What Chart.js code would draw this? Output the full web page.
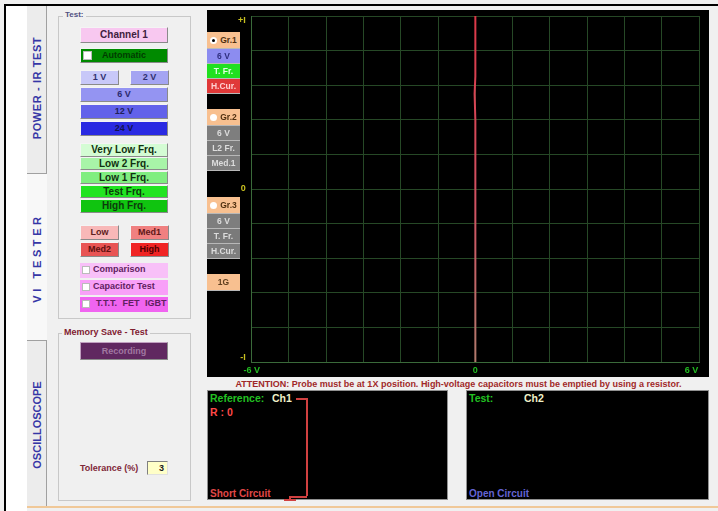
<!DOCTYPE html>
<html><head><meta charset="utf-8">
<script src="https://cdn.jsdelivr.net/npm/chart.js@4"></script>
<style>
html,body{margin:0;padding:0}
body{width:718px;height:511px;background:#f0f0f0;position:relative;overflow:hidden;font-family:"Liberation Sans",Arial,sans-serif}
.a{position:absolute}
.b{position:absolute;box-sizing:border-box;font:bold 9px "Liberation Sans",Arial,sans-serif;text-align:center;border-top:1px solid #f4f4f4;border-left:1px solid #f4f4f4;border-right:1px solid #8a8a8a;border-bottom:1px solid #8a8a8a;white-space:nowrap}
.f{font-size:10px}
.cb{position:absolute;left:2px;top:3px;width:8px;height:8px;background:#fff;border:1px solid #bbb;box-sizing:border-box}
.s{position:absolute;left:207px;width:33px;box-sizing:border-box;font:bold 8.5px "Liberation Sans",Arial,sans-serif;text-align:center;border-bottom:1px solid #b8b8b8;white-space:nowrap}
.rd{display:inline-block;width:7px;height:7px;border-radius:50%;background:#fff;vertical-align:-1px;margin-right:3px;position:relative}
.rd.on:after{content:"";position:absolute;left:2px;top:2px;width:3px;height:3px;border-radius:50%;background:#000}
.vt{position:absolute;font:bold 11px "Liberation Sans",Arial,sans-serif;color:#3636a6;white-space:nowrap;transform:translate(-50%,-50%) rotate(-90deg)}
.t{position:absolute;font:bold 10.5px "Liberation Sans",Arial,sans-serif;white-space:nowrap}
</style></head>
<body>
<div class="a" style="left:6px;top:6px;width:21px;height:505px;background:#fff"></div>
<div class="a" style="left:27px;top:173px;width:20px;height:167px;background:#f8f8f8"></div>
<div class="a" style="left:27px;top:6px;width:19px;height:167px;background:#ececec;border-right:1px solid #a0a0a0;border-bottom:1px solid #a0a0a0"></div>
<div class="a" style="left:27px;top:340px;width:19px;height:167px;background:#ececec;border-right:1px solid #a0a0a0;border-top:1px solid #a0a0a0"></div>
<div class="a" style="left:4px;top:4px;width:714px;height:2px;background:#000"></div>
<div class="a" style="left:4px;top:4px;width:2px;height:507px;background:#000"></div>
<div class="a" style="left:27px;top:506px;width:691px;height:2px;background:#f0c898"></div>

<div class="vt" style="left:37px;top:88px;letter-spacing:0.6px">POWER - IR TEST</div>
<div class="vt" style="left:37px;top:258px;letter-spacing:3.6px">VI TESTER</div>
<div class="vt" style="left:37px;top:425px">OSCILLOSCOPE</div>

<div class="a" style="left:58px;top:16px;width:131px;height:301px;border:1px solid #c8c8c8"></div>
<div class="a" style="left:63px;top:10px;background:#f0f0f0;padding:0 2px;font:bold 8px 'Liberation Sans',Arial;color:#505080">Test:</div>
<div class="a" style="left:58px;top:333px;width:131px;height:166px;border:1px solid #c8c8c8"></div>
<div class="a" style="left:62px;top:327px;background:#f0f0f0;padding:0 2px;font:bold 9px 'Liberation Sans',Arial;color:#802030">Memory Save - Test</div>

<div class="b f" style="left:80px;top:27px;width:88px;height:16px;line-height:14px;background:#f8c8f0;color:#402040">Channel 1</div>
<div class="b" style="left:80px;top:48px;width:88px;height:15px;line-height:13px;background:#008a00;color:#003c00"><span class="cb" style="top:2px;width:9px;height:9px"></span>Automatic</div>
<div class="b" style="left:80px;top:70px;width:39px;height:15px;line-height:13px;background:#c8c8f8;color:#303070">1 V</div>
<div class="b" style="left:130px;top:70px;width:39px;height:15px;line-height:13px;background:#a4a4f2;color:#303070">2 V</div>
<div class="b" style="left:80px;top:87px;width:88px;height:15px;line-height:13px;background:#9494f2;color:#2a2a70">6 V</div>
<div class="b" style="left:80px;top:104px;width:88px;height:15px;line-height:13px;background:#6262ea;color:#20205a">12 V</div>
<div class="b" style="left:80px;top:121px;width:88px;height:15px;line-height:13px;background:#2a2ae2;color:#12124e">24 V</div>
<div class="b f" style="left:80px;top:143px;width:88px;height:14px;line-height:12px;background:#d4fcd4;color:#103010">Very Low Frq.</div>
<div class="b f" style="left:80px;top:157px;width:88px;height:13px;line-height:11px;background:#a8f4a8;color:#103010">Low 2 Frq.</div>
<div class="b f" style="left:80px;top:171px;width:88px;height:13px;line-height:11px;background:#80ee80;color:#103010">Low 1 Frq.</div>
<div class="b f" style="left:80px;top:185px;width:88px;height:13px;line-height:11px;background:#22e422;color:#0c3a0c">Test Frq.</div>
<div class="b f" style="left:80px;top:199px;width:88px;height:14px;line-height:12px;background:#10c410;color:#0c3a0c">High Frq.</div>
<div class="b" style="left:80px;top:225px;width:39px;height:15px;line-height:13px;background:#f8b8b8;color:#602020">Low</div>
<div class="b" style="left:130px;top:225px;width:39px;height:15px;line-height:13px;background:#f08080;color:#601818">Med1</div>
<div class="b" style="left:80px;top:242px;width:39px;height:15px;line-height:13px;background:#e85454;color:#601010">Med2</div>
<div class="b" style="left:130px;top:242px;width:39px;height:15px;line-height:13px;background:#f02424;color:#500000">High</div>
<div class="b" style="left:80px;top:263px;width:88px;height:15px;line-height:13px;background:#f8c0f8;color:#602060;text-align:left;padding-left:13px;border:none"><span class="cb"></span>Comparison</div>
<div class="b" style="left:80px;top:280px;width:88px;height:15px;line-height:13px;background:#f8a0f8;color:#602060;text-align:left;padding-left:13px;border:none"><span class="cb"></span>Capacitor Test</div>
<div class="b" style="left:80px;top:297px;width:88px;height:15px;line-height:13px;background:#f064f0;color:#602060;text-align:left;padding-left:16px;border:none;word-spacing:3px"><span class="cb"></span>T.T.T. FET IGBT</div>
<div class="b" style="left:80px;top:342px;width:88px;height:18px;line-height:16px;background:#602860;color:#a078a0;border-top-color:#c0a0c0;border-left-color:#c0a0c0">Recording</div>
<div class="a" style="left:80px;top:463px;font:bold 9px 'Liberation Sans',Arial;color:#802838">Tolerance (%)</div>
<div class="a" style="left:147px;top:461px;width:21px;height:14px;box-sizing:border-box;background:#ffffc8;border-top:1px solid #808080;border-left:1px solid #808080;border-right:1px solid #e0e0e0;border-bottom:1px solid #e0e0e0;font:bold 9px 'Liberation Sans',Arial;text-align:right;padding-right:3px;line-height:12px;color:#202020">3</div>

<div class="a" style="left:207px;top:10px;width:502px;height:367px;background:#000">
<canvas id="c" width="502" height="367"></canvas>
</div>

<div class="s" style="top:32px;height:17px;line-height:16px;background:#f8c090;color:#503010"><span class="rd on"></span>Gr.1</div>
<div class="s" style="top:49px;height:15px;line-height:14px;background:#8c8cf0;color:#303080">6 V</div>
<div class="s" style="top:64px;height:15px;line-height:14px;background:#20e020;color:#e0ffe0">T. Fr.</div>
<div class="s" style="top:79px;height:15px;line-height:14px;background:#e03838;color:#ffd0d0">H.Cur.</div>
<div class="s" style="top:109px;height:17px;line-height:16px;background:#f8c090;color:#503010"><span class="rd"></span>Gr.2</div>
<div class="s" style="top:126px;height:15px;line-height:14px;background:#7e7e7e;color:#dcdcdc">6 V</div>
<div class="s" style="top:141px;height:15px;line-height:14px;background:#7a7a7a;color:#dcdcdc">L2 Fr.</div>
<div class="s" style="top:156px;height:15px;line-height:14px;background:#7e7e7e;color:#dcdcdc">Med.1</div>
<div class="s" style="top:197px;height:17px;line-height:16px;background:#f8c090;color:#503010"><span class="rd"></span>Gr.3</div>
<div class="s" style="top:214px;height:15px;line-height:14px;background:#7e7e7e;color:#dcdcdc">6 V</div>
<div class="s" style="top:229px;height:15px;line-height:14px;background:#7a7a7a;color:#dcdcdc">T. Fr.</div>
<div class="s" style="top:244px;height:15px;line-height:14px;background:#7e7e7e;color:#dcdcdc">H.Cur.</div>
<div class="s" style="top:274px;height:17px;line-height:16px;background:#f8c090;color:#604020">1G</div>

<div class="a" style="left:207px;top:379px;width:503px;text-align:center;font:bold 9px 'Liberation Sans',Arial;color:#a02828;white-space:nowrap">ATTENTION: Probe must be at 1X position. High-voltage capacitors must be emptied by using a resistor.</div>

<div class="a" style="left:207px;top:390px;width:241px;height:110px;background:#000;border:1px solid #909090;box-sizing:border-box"></div>
<div class="t" style="left:210px;top:392px;color:#22c022">Reference:</div>
<div class="t" style="left:272px;top:392px;color:#f0f0c8">Ch1</div>
<div class="t" style="left:210px;top:406px;color:#ff4848">R : 0</div>
<div class="t" style="left:210px;top:488px;color:#e04848;font-size:10px">Short Circuit</div>
<div class="a" style="left:296px;top:398px;width:11px;height:1.5px;background:#d04040"></div>
<div class="a" style="left:306px;top:398px;width:1.5px;height:98px;background:#d04040"></div>
<div class="a" style="left:289px;top:496px;width:18px;height:1.5px;background:#d04040"></div>
<div class="a" style="left:289px;top:496px;width:1.5px;height:3px;background:#d04040"></div>
<div class="a" style="left:284px;top:499px;width:12px;height:1.5px;background:#d04040"></div>

<div class="a" style="left:466px;top:390px;width:243px;height:110px;background:#000;border:1px solid #909090;box-sizing:border-box"></div>
<div class="t" style="left:469px;top:392px;color:#22c022">Test:</div>
<div class="t" style="left:524px;top:392px;color:#f0f0c8">Ch2</div>
<div class="t" style="left:469px;top:488px;color:#6464d4;font-size:10px">Open Circuit</div>

<script>
// Data (VI curve: short circuit -> vertical line at 0 V)
const traceVoltage = [0, 0, -0.02, 0, 0, 0];
const traceCurrent = [1, 0.65, 0.55, 0.4, 0, -1];
const xTickLabels = { '-6': '-6 V', '0': '0', '6': '6 V      ' };
const yTickLabels = { '1': ['', '+I'], '0': '0', '-1': ['-I', ''] };

const points = traceVoltage.map((v, i) => ({ x: v, y: traceCurrent[i] }));
const lbl = (map, v) => { const k = String(Math.round(v * 1000) / 1000); return map[k] !== undefined ? map[k] : ''; };
const noPad = s => { s.paddingTop = 0; s.paddingBottom = 0; s.paddingLeft = 0; s.paddingRight = 0; };

new Chart(document.getElementById('c'), {
  type: 'scatter',
  data: { datasets: [{
    data: points, showLine: true, pointRadius: 0, borderWidth: 2,
    borderColor: (ctx) => {
      const ch = ctx.chart, a = ch.chartArea;
      if (!a) return '#d04050';
      const g = ch.ctx.createLinearGradient(0, a.top, 0, a.bottom);
      g.addColorStop(0, '#dc3848'); g.addColorStop(0.55, '#d05262'); g.addColorStop(1, '#b07a6c');
      return g;
    }
  }]},
  options: {
    responsive: false, animation: false, devicePixelRatio: 1,
    layout: { padding: { top: 6, right: 10, left: 0, bottom: 0 } },
    plugins: { legend: { display: false }, tooltip: { enabled: false } },
    scales: {
      x: {
        type: 'linear', min: -6, max: 6,
        afterFit: s => { s.height = 15; noPad(s); },
        grid: { color: '#264826', drawTicks: false, lineWidth: 1 },
        border: { color: '#3a6a3a', width: 1 },
        ticks: { stepSize: 1, autoSkip: false, maxRotation: 0, padding: 3, color: '#22bc22',
          font: { family: 'Liberation Sans', weight: 'bold', size: 9 },
          callback: v => lbl(xTickLabels, v) }
      },
      y: {
        min: -1, max: 1,
        afterFit: s => { s.width = 44.7; noPad(s); },
        grid: { color: '#264826', drawTicks: false, lineWidth: 1 },
        border: { color: '#3a6a3a', width: 1 },
        ticks: { stepSize: 0.2, autoSkip: false, padding: 6, color: '#c8c020',
          font: { family: 'Liberation Sans', weight: 'bold', size: 9, lineHeight: 1.1 },
          callback: v => lbl(yTickLabels, v) }
      }
    }
  }
});
</script>
</body></html>
